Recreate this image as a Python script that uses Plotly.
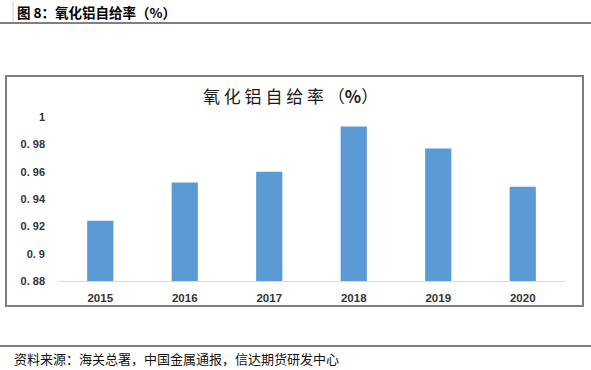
import plotly.graph_objects as go

years = ["2015", "2016", "2017", "2018", "2019", "2020"]
ratio = [0.924, 0.952, 0.960, 0.993, 0.977, 0.949]
y_ticks = [0.88, 0.90, 0.92, 0.94, 0.96, 0.98, 1.0]
y_ticklabels = ["0. 88", "0. 9", "0. 92", "0. 94", "0. 96", "0. 98", "1"]

W, H = 591, 370
L, R, T, B = 58, 26, 117, 89
pw, ph = W - L - R, H - T - B

def px(x):
    return (x - L) / pw

def py(y):
    return (H - B - y) / ph

fig = go.Figure(go.Bar(
    x=years, y=ratio, marker=dict(color="#5B9BD5", line=dict(width=0)),
    width=0.31, hoverinfo="skip",
))

fig.update_layout(
    width=W, height=H,
    margin=dict(l=L, r=R, t=T, b=B),
    paper_bgcolor="white", plot_bgcolor="white",
    showlegend=False,
    font=dict(family="Liberation Sans, Arial, sans-serif", color="#333"),
    xaxis=dict(showgrid=False, showline=True, linecolor="#d9d9d9", linewidth=1,
               ticks="", tickfont=dict(size=11.5, color="#333", family="Liberation Sans, Arial"),
               ticklabelstandoff=6),
    yaxis=dict(range=[0.88, 1.0], showgrid=False, showline=False, zeroline=False,
               tickvals=y_ticks, ticktext=y_ticklabels, ticks="",
               tickfont=dict(size=11, color="#333", family="Liberation Sans, Arial"),
               ticklabelstandoff=12),
    shapes=[
        dict(type="rect", xref="paper", yref="paper",
             x0=px(6), x1=px(583), y0=py(306), y1=py(76),
             line=dict(color="#7f7f7f", width=2), fillcolor="rgba(0,0,0,0)", layer="below"),
        dict(type="line", xref="paper", yref="paper",
             x0=px(0), x1=px(591), y0=py(23), y1=py(23),
             line=dict(color="#000", width=1)),
        dict(type="line", xref="paper", yref="paper",
             x0=px(0), x1=px(591), y0=py(346), y1=py(346),
             line=dict(color="#000", width=1)),
        dict(type="line", xref="paper", yref="paper",
             x0=px(13), x1=px(13), y0=py(1), y1=py(22),
             line=dict(color="#cccccc", width=1)),
    ],
    annotations=[
        dict(text="<b>图 8：氧化铝自给率（%）</b>", xref="paper", yref="paper",
             x=px(15), y=py(12), xanchor="left", yanchor="middle", showarrow=False,
             font=dict(size=13.5, color="#000", family="Noto Sans CJK SC")),
        dict(text="氧 化 铝 自 给 率 （<b>%</b>）", xref="paper", yref="paper",
             x=px(290), y=py(95), xanchor="center", yanchor="middle", showarrow=False,
             font=dict(size=17, color="#1a1a1a", family="Noto Sans CJK SC")),
        dict(text="资料来源：海关总署，中国金属通报，信达期货研发中心", xref="paper", yref="paper",
             x=px(12), y=py(358), xanchor="left", yanchor="middle", showarrow=False,
             font=dict(size=13, color="#111", family="Noto Sans CJK SC")),
    ],
)
fig.update_xaxes(tickfont=dict(weight="bold"))
fig.update_yaxes(tickfont=dict(weight="bold"))

fig.write_html("out.html", config={"displayModeBar": False},
               post_script="document.body.style.margin='0';")
